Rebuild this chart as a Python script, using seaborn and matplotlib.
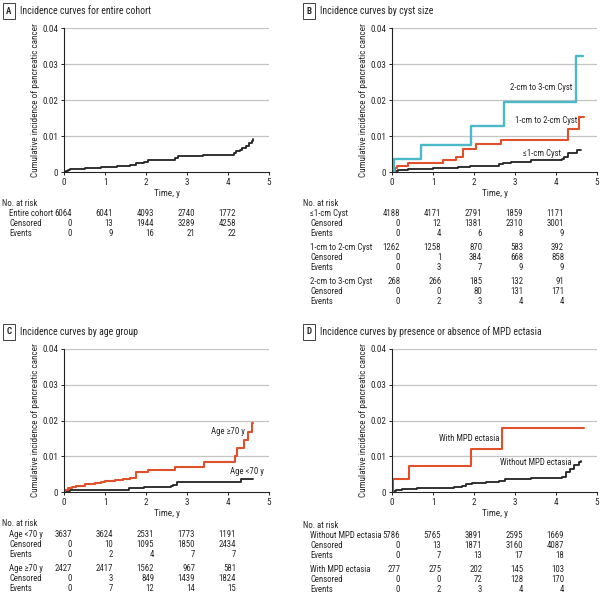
import matplotlib
matplotlib.use("Agg")
import matplotlib.pyplot as plt
import matplotlib.transforms as mtransforms
from matplotlib import font_manager as fm
import seaborn as sns
import pandas as pd

# --- data ---
TICKS_T = [0, 1, 2, 3, 4]

# A: entire cohort
a_t = [0, 0.05, 0.1, 0.15, 0.25, 0.5, 0.9, 1.3, 1.5, 1.6, 1.75, 1.95, 2.05, 2.6, 2.7, 2.77,
       3.4, 4.15, 4.2, 4.3, 4.35, 4.45, 4.5, 4.58, 4.6]
a_y = [0, 0.0003, 0.0005, 0.0007, 0.0009, 0.0011, 0.0014, 0.0016, 0.0018, 0.0020, 0.0026, 0.0029,
       0.0032, 0.0034, 0.0040, 0.0045, 0.0048, 0.0052, 0.0057, 0.0062, 0.0068, 0.0073, 0.0080,
       0.0085, 0.0091]

# B: by cyst size
b_small_t = [0, 0.05, 0.15, 0.4, 1.0, 1.6, 1.9, 2.6, 2.7, 2.9, 3.4, 4.15, 4.2, 4.3, 4.5, 4.62]
b_small_y = [0, 0.0003, 0.0006, 0.0009, 0.0012, 0.0015, 0.0018, 0.0021, 0.0025, 0.0028, 0.0032,
             0.0035, 0.0043, 0.0053, 0.0062, 0.0062]
b_mid_t = [0, 0.08, 0.12, 0.4, 1.25, 1.57, 1.74, 2.06, 2.67, 4.3, 4.57, 4.68]
b_mid_y = [0, 0.0010, 0.0016, 0.0024, 0.0032, 0.0042, 0.0065, 0.0077, 0.0090, 0.0120, 0.0152, 0.0152]
b_big_t = [0, 0.05, 0.71, 1.93, 2.73, 4.49, 4.67]
b_big_y = [0, 0.0037, 0.0075, 0.0128, 0.0195, 0.0322, 0.0322]

# C: by age group
c_young_t = [0, 0.05, 0.15, 1.59, 1.95, 2.6, 2.65, 2.75, 4.31, 4.6]
c_young_y = [0, 0.0003, 0.0005, 0.0010, 0.0013, 0.0016, 0.0020, 0.0028, 0.0037, 0.0037]
c_old_t = [0, 0.02, 0.1, 0.2, 0.3, 0.5, 0.75, 0.9, 1.0, 1.25, 1.45, 1.6, 1.76, 2.05, 2.7, 3.41,
           4.17, 4.23, 4.38, 4.48, 4.59, 4.6]
c_old_y = [0, 0.0005, 0.0010, 0.0015, 0.0018, 0.0021, 0.0024, 0.0027, 0.0030, 0.0033, 0.0037,
           0.0040, 0.0056, 0.0062, 0.0070, 0.0085, 0.0102, 0.0123, 0.0145, 0.0168, 0.0194, 0.0194]

# D: by MPD ectasia
d_without_t = [0, 0.03, 0.1, 0.25, 0.6, 1.3, 1.5, 1.7, 1.8, 1.95, 2.3, 2.6, 2.75, 3.4, 4.15,
               4.25, 4.35, 4.45, 4.55, 4.6]
d_without_y = [0, 0.0003, 0.0006, 0.0008, 0.0010, 0.0012, 0.0014, 0.0016, 0.0021, 0.0025, 0.0028,
               0.0032, 0.0036, 0.0040, 0.0043, 0.0055, 0.0065, 0.0075, 0.0085, 0.0088]
d_with_t = [0, 0.02, 0.42, 1.93, 2.68, 4.69]
d_with_y = [0, 0.0036, 0.0072, 0.0120, 0.0180, 0.0180]

# risk tables
tab_a = [("Entire cohort", [6064, 6041, 4093, 2740, 1772]),
         ("Censored", [0, 13, 1944, 3289, 4258]),
         ("Events", [0, 9, 16, 21, 22])]
tab_b = [("\u22641-cm Cyst", [4188, 4171, 2791, 1859, 1171]),
         ("Censored", [0, 12, 1381, 2310, 3001]),
         ("Events", [0, 4, 6, 8, 9]),
         ("1-cm to 2-cm Cyst", [1262, 1258, 870, 583, 392]),
         ("Censored", [0, 1, 384, 668, 858]),
         ("Events", [0, 3, 7, 9, 9]),
         ("2-cm to 3-cm Cyst", [268, 266, 185, 132, 91]),
         ("Censored", [0, 0, 80, 131, 171]),
         ("Events", [0, 2, 3, 4, 4])]
tab_c = [("Age <70 y", [3637, 3624, 2531, 1773, 1191]),
         ("Censored", [0, 10, 1095, 1850, 2434]),
         ("Events", [0, 2, 4, 7, 7]),
         ("Age \u226570 y", [2427, 2417, 1562, 967, 581]),
         ("Censored", [0, 3, 849, 1439, 1824]),
         ("Events", [0, 7, 12, 14, 15])]
tab_d = [("Without MPD ectasia", [5786, 5765, 3891, 2595, 1669]),
         ("Censored", [0, 13, 1871, 3160, 4087]),
         ("Events", [0, 7, 13, 17, 18]),
         ("With MPD ectasia", [277, 275, 202, 145, 103]),
         ("Censored", [0, 0, 72, 128, 170]),
         ("Events", [0, 2, 3, 4, 4])]

# --- style ---
sns.set_style("white")


def pick_narrow_font():
    # the journal figure uses a condensed sans; take one if the box has it
    found = {}
    for f in fm.fontManager.ttflist:
        if f.style != "normal" or f.weight not in (400, "normal", "regular", "book"):
            continue
        st = str(f.stretch)
        if "Narrow" in f.name or "Condensed" in f.name or st in ("condensed", "semi-condensed"):
            found.setdefault((f.name, st), f.fname)
    order = ["Liberation Sans Narrow", "Roboto Condensed", "Open Sans Condensed",
             "Noto Sans Condensed", "Noto Sans SemiCondensed", "Noto Sans", "Open Sans", "Roboto"]
    for name in order:
        for (nm, st), _ in found.items():
            if nm == name:
                return nm, st
    return None


narrow = pick_narrow_font()
if narrow:
    plt.rcParams["font.family"] = [narrow[0], "Liberation Sans", "DejaVu Sans"]
    if narrow[1] in ("condensed", "semi-condensed"):
        plt.rcParams["font.stretch"] = narrow[1]
    FS = 6.3
else:
    plt.rcParams["font.family"] = ["Liberation Sans", "DejaVu Sans"]
    FS = 5.6

BLACK = "#222222"
RED = "#e0502a"
CYAN = "#4cb9c8"
W, H = 600, 595

fig = plt.figure(figsize=(6, 5.95), dpi=100)


def px_axes(left, top, right, bottom):
    return fig.add_axes([left / W, 1 - bottom / H, (right - left) / W, (bottom - top) / H])


def step(ax, t, y, color, lw=1.3):
    df = pd.DataFrame({"t": t, "y": y})
    sns.lineplot(data=df, x="t", y="y", ax=ax, color=color, lw=lw,
                 drawstyle="steps-post", estimator=None, sort=False)


def style_axes(ax):
    ax.set_xlim(0, 5)
    ax.set_ylim(0, 0.04)
    ax.set_xticks([0, 1, 2, 3, 4, 5])
    ax.set_yticks([0, 0.01, 0.02, 0.03, 0.04])
    ax.set_yticklabels(["0", "0.01", "0.02", "0.03", "0.04"])
    for yv in [0.01, 0.02, 0.03, 0.04]:
        ax.axhline(yv, color="#c4c4c4", lw=0.9, zorder=0)
    for s in ["top", "right"]:
        ax.spines[s].set_visible(False)
    for s in ["left", "bottom"]:
        ax.spines[s].set_color(BLACK)
        ax.spines[s].set_linewidth(0.8)
    ax.tick_params(axis="both", labelsize=FS + 0.3, length=2.5, width=0.7, color=BLACK,
                   pad=1.5, direction="out", bottom=True, left=True)
    ax.set_xlabel("Time, y", fontsize=FS + 0.3, labelpad=2)
    ax.set_ylabel("Cumulative incidence of pancreatic cancer", fontsize=FS + 0.3, labelpad=2)
    ax.set_facecolor("none")


def panel_title(x_px, y_px, letter, text):
    fig.text((x_px + 5) / W, 1 - y_px / H, letter, fontsize=FS + 0.2, fontweight="bold",
             va="center", ha="center",
             bbox=dict(boxstyle="square,pad=0.35", fc="white", ec=BLACK, lw=0.6))
    fig.text((x_px + 16) / W, 1 - y_px / H, text, fontsize=FS + 0.8, va="center", ha="left")


def risk_table(ax, x_px, top_px, rows, group=3):
    trans = mtransforms.blended_transform_factory(ax.transData, fig.transFigure)
    fig.text(x_px / W, 1 - top_px / H, "No. at risk", fontsize=FS, va="center", ha="left")
    y = top_px
    for i, (label, vals) in enumerate(rows):
        y += 10.2
        if i > 0 and i % group == 0:
            y += 3.4
        fig.text((x_px + 7) / W, 1 - y / H, label, fontsize=FS, va="center", ha="left")
        for t, v in zip(TICKS_T, vals):
            ax.text(t + 0.2, 1 - y / H, str(v), fontsize=FS, va="center", ha="right",
                    transform=trans, clip_on=False)


# A
axA = px_axes(64, 28, 269, 172)
style_axes(axA)
step(axA, a_t, a_y, BLACK)
panel_title(4, 11, "A", "Incidence curves for entire cohort")
risk_table(axA, 2, 203, tab_a)

# B
axB = px_axes(392, 28, 597, 172)
style_axes(axB)
step(axB, b_small_t, b_small_y, BLACK)
step(axB, b_mid_t, b_mid_y, RED, lw=1.5)
step(axB, b_big_t, b_big_y, CYAN, lw=1.7)
axB.text(3.63, 0.0235, "2-cm to 3-cm Cyst", fontsize=FS, ha="center", va="center")
axB.text(3.75, 0.0143, "1-cm to 2-cm Cyst", fontsize=FS, ha="center", va="center")
axB.text(3.65, 0.0052, "\u22641-cm Cyst", fontsize=FS, ha="center", va="center")
panel_title(304, 11, "B", "Incidence curves by cyst size")
risk_table(axB, 303, 203, tab_b)

# C
axC = px_axes(64, 349, 269, 492)
style_axes(axC)
step(axC, c_young_t, c_young_y, BLACK)
step(axC, c_old_t, c_old_y, RED, lw=1.5)
axC.text(3.99, 0.0169, "Age \u226570 y", fontsize=FS, ha="center", va="center")
axC.text(4.45, 0.0056, "Age <70 y", fontsize=FS, ha="center", va="center")
panel_title(4, 332, "C", "Incidence curves by age group")
risk_table(axC, 2, 524, tab_c)

# D
axD = px_axes(392, 349, 597, 492)
style_axes(axD)
step(axD, d_without_t, d_without_y, BLACK)
step(axD, d_with_t, d_with_y, RED, lw=1.5)
axD.text(1.88, 0.0150, "With MPD ectasia", fontsize=FS, ha="center", va="center")
axD.text(3.51, 0.0082, "Without MPD ectasia", fontsize=FS, ha="center", va="center")
panel_title(304, 332, "D", "Incidence curves by presence or absence of MPD ectasia")
risk_table(axD, 303, 525, tab_d)

fig.savefig("out.png", dpi=100)
